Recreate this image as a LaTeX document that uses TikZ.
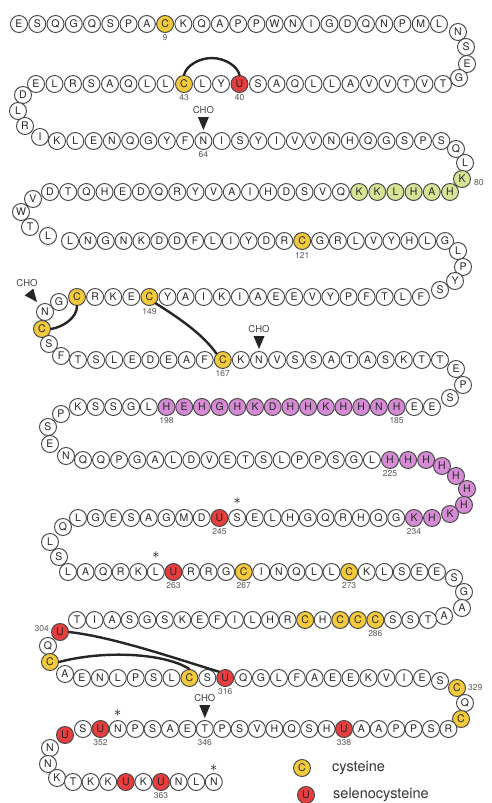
\documentclass[tikz,border=0pt]{standalone}
\usepackage{fontspec}
\setmainfont{TeX Gyre Heros}
\usetikzlibrary{calc}
\definecolor{yc}{RGB}{242,202,60}
\definecolor{rc}{RGB}{230,62,62}
\definecolor{gc}{RGB}{214,228,150}
\definecolor{pc}{RGB}{214,140,212}
\definecolor{oc}{RGB}{70,70,70}
\tikzset{
 aa/.style={circle, draw=oc, line width=0.95pt, minimum size=17pt, inner sep=0pt,
   font=\fontsize{10.5}{11}\selectfont, text=black!85},
 num/.style={font=\fontsize{8.5}{9}\selectfont, text=black!65, inner sep=0pt},
 starlab/.style={font=\fontsize{15}{15}\selectfont, inner sep=0pt},
 cho/.style={font=\fontsize{9.5}{10}\selectfont, text=black!75, inner sep=0pt},
 ss/.style={line width=2.4pt, draw=black!85, line cap=round},
 tri/.style={fill=black!85},
 leg/.style={font=\fontsize{14.5}{15}\selectfont, anchor=west, inner sep=0pt, text=black!80}
}
\newcommand\aaseg[7]{%
 \foreach \ch [count=\k from 0] in {#6} {%
   \pgfmathtruncatemacro\nn{#1+(#2)*\k}%
   \edef\aacol{\if C\ch yc\else\if U\ch rc\else #7\fi\fi}%
   \node[aa, fill=\aacol] (r\nn) at ({#3+#4*\k}, #5) {\ch};
 }}
\newcommand\aares[5]{%
 \edef\aacol{\if C#2yc\else\if U#2rc\else #5\fi\fi}%
 \node[aa, fill=\aacol] (r#1) at (#3,#4) {#2};}
\newcommand\chomark[1]{%
 \fill[tri] ([yshift=2pt]r#1.north) -- ++(-5.5,-13) -- ++(11,0) -- cycle;
 \node[cho] (cho#1) at ([yshift=22pt]r#1.north) {CHO};}
\begin{document}
\begin{tikzpicture}[x=1pt,y=-1pt]
\fill[white] (0,0) rectangle (491,803);
\useasboundingbox (0,0) rectangle (491,803);

% row 1
\aaseg{1}{1}{19}{18.26}{24}{E,S,Q,G,Q,S,P,A,C,K,Q,A,P,P,W,N,I,G,D,Q,N,P,M,L}{white}
\aares{25}{N}{458}{32}{white}
\aares{26}{S}{466}{47}{white}
\aares{27}{E}{467}{64}{white}
\aares{28}{G}{459}{78}{white}
% row 2
\aaseg{51}{-1}{36}{18.5}{84}{E,L,R,S,A,Q,L,L,C,L,Y,U,S,A,Q,L,L,A,V,V,T,V,T}{white}
\aares{52}{D}{23}{95}{white}
\aares{53}{L}{18}{111}{white}
\aares{54}{R}{25}{126}{white}
\aares{55}{I}{40}{137}{white}
% row 3
\aaseg{56}{1}{57}{18.3}{141}{K,L,E,N,Q,G,Y,F,N,I,S,Y,I,V,V,N,H,Q,G,S,P,S}{white}
\aares{78}{Q}{456}{149}{white}
\aares{79}{L}{465}{163}{white}
\aares{80}{K}{462}{179}{gc}
% row 4
\aaseg{103}{-1}{50}{18.18}{192}{D,T,Q,H,E,D,Q,R,Y,V,A,I,H,D,S,V,Q}{white}
\aaseg{86}{-1}{359.06}{18.18}{192}{K,K,L,H,A,H}{gc}
\aares{104}{V}{33}{199}{white}
\aares{105}{W}{21}{212}{white}
\aares{106}{T}{30}{227}{white}
\aares{107}{L}{48}{236}{white}
% row 5
\aaseg{108}{1}{70}{17.86}{241}{L,N,G,N,K,D,D,F,L,I,Y,D,R,C,G,R,L,V,Y,H,L,G}{white}
\aares{130}{L}{458}{251}{white}
\aares{131}{P}{463}{267}{white}
\aares{132}{Y}{455}{281}{white}
\aares{133}{S}{440}{290}{white}
% row 6
\aaseg{153}{-1}{77}{18.1}{297}{C,R,K,E,C,Y,A,I,K,I,A,E,E,V,Y,P,F,T,L,F}{white}
\aares{154}{G}{59}{302}{white}
\aares{155}{N}{45}{312}{white}
\aares{156}{C}{42}{329}{white}
\aares{157}{S}{49}{344}{white}
\aares{158}{F}{61}{356}{white}
% row 7
\aaseg{159}{1}{78}{18.1}{360}{T,S,L,E,D,E,A,F,C,K,N,V,S,S,A,T,A,S,K,T,T}{white}
\aares{180}{E}{456}{369}{white}
\aares{181}{P}{463}{385}{white}
\aares{182}{S}{450}{398}{white}
% row 8
\aaseg{203}{-1}{78}{17.7}{407}{K,S,S,G,L}{white}
\aaseg{198}{-1}{166.5}{17.7}{407}{H,E,H,G,H,K,D,H,H,K,H,H,N,H}{pc}
\aaseg{184}{-1}{414.3}{17.7}{407}{E,E}{white}
\aares{204}{P}{61}{414}{white}
\aares{205}{S}{48}{427}{white}
\aares{206}{E}{50}{444}{white}
\aares{207}{N}{66}{456}{white}
% row 9
\aaseg{208}{1}{83}{18.06}{460}{Q,Q,P,G,A,L,D,V,E,T,S,L,P,P,S,G,L}{white}
\aaseg{225}{1}{390.02}{18.06}{460}{H,H,H}{pc}
\aares{228}{H}{442}{466}{pc}
\aares{229}{H}{456}{476}{pc}
\aares{230}{H}{467}{489}{pc}
\aares{231}{H}{464}{505}{pc}
\aares{232}{K}{450}{514}{pc}
\aares{233}{H}{432}{518}{pc}
% row 10
\aaseg{253}{-1}{78}{17.68}{518}{L,G,E,S,A,G,M,D,U,S,E,L,H,G,Q,R,H,Q,G}{white}
\aares{234}{K}{414}{518}{pc}
\aares{254}{Q}{63}{527}{white}
\aares{255}{L}{50}{542}{white}
\aares{256}{S}{59}{557}{white}
% row 11
\aaseg{257}{1}{68}{17.57}{572}{L,A,Q,R,K,L,U,R,R,G,C,I,N,Q,L,L,C,K,L,S,E,E}{white}
\aares{279}{S}{454}{578}{white}
\aares{280}{G}{464}{592}{white}
\aares{281}{A}{462}{608}{white}
\aares{282}{A}{444}{616}{white}
% row 12
\aaseg{303}{-1}{77}{17.55}{620}{T,I,A,S,G,S,K,E,F,I,L,H,R,C,H,C,C,C,S,S,T}{white}
\aares{304}{U}{60}{632}{white}
\aares{305}{Q}{48}{646}{white}
\aares{306}{C}{50}{662}{white}
% row 13
\aares{307}{A}{65}{674}{white}
\aaseg{308}{1}{82}{17.9}{678}{E,N,L,P,S,L,C,S,U,Q,G,L,F,A,E,E,K,V,I,E}{white}
\aares{328}{S}{440}{681}{white}
\aares{329}{C}{457}{688}{white}
\aares{330}{Q}{465}{703}{white}
\aares{331}{C}{461}{719}{white}
% row 14
\aaseg{353}{-1}{83}{17.4}{729}{S,U,N,P,S,A,E,T,P,S,V,H,Q,S,H,U,A,A,P,P,S,R}{white}
\aares{354}{U}{65}{735}{white}
\aares{355}{N}{50}{748}{white}
\aares{356}{N}{48}{764}{white}
\aares{357}{K}{57}{778}{white}
% row 15
\aaseg{358}{1}{73}{17.6}{782}{T,K,K,U,K,U,N,L,N}{white}

% number labels
\foreach \m in {9,43,40,64,121,167,198,185,225,245,234,263,267,273,286,316,352,346,338,363}
  \node[num] (n\m) at ([yshift=-14pt]r\m) {\m};
\node[num] (n149) at ([yshift=-15pt]r149) {149};
\node[num, anchor=west] (n80) at ([xshift=3pt,yshift=-4pt]r80.east) {80};
\node[num, anchor=east] (n304) at ([xshift=-2pt,yshift=3pt]r304.west) {304};
\node[num, anchor=west] (n329) at ([xshift=2pt]r329.east) {329};

% stars
\foreach \m/\d in {244/17,262/17,351/16,366/14}
  \node[starlab] (st\m) at ([yshift=\d pt]r\m) {$\ast$};

% glycosylation marks
\chomark{64}
\chomark{169}
\chomark{346}
\fill[tri] ([shift={(-8,-10)}]r155.center) -- ([shift={(-11.7,-23.4)}]r155.center)
   -- ([shift={(-20.3,-16.6)}]r155.center) -- cycle;
\node[cho] (cho155) at ([shift={(-18,-29)}]r155.center) {CHO};

% disulfide / selenosulfide bridges
\coordinate (pk1) at ($(r43.north)!0.5!(r40.north)+(0,-17)$);
\draw[ss] (r43.north) .. controls +(2,-9) and +(-13,0) .. (pk1)
   .. controls +(13,0) and +(-2,-9) .. (r40.north);
\draw[ss] (r153.south) .. controls +(0,12) and +(12,-2) .. (r156.east);
\draw[ss] (r149.south east) .. controls +(22,14) and +(-14,-20) .. (r167.north west);
\draw[ss] (r304.east) .. controls +(45,5) and +(-40,-12) .. (r316.north west);
\draw[ss] (r306.east) .. controls +(45,-12) and +(-25,-16) .. (r314.north);

% legend
\node[aa, fill=yc] (lc) at (302,768) {C};
\node[leg] (lct) at (332,768) {cysteine};
\node[aa, fill=rc] (lu) at (306,795) {U};
\node[leg] (lut) at (333,795) {selenocysteine};
\end{tikzpicture}
\end{document}
